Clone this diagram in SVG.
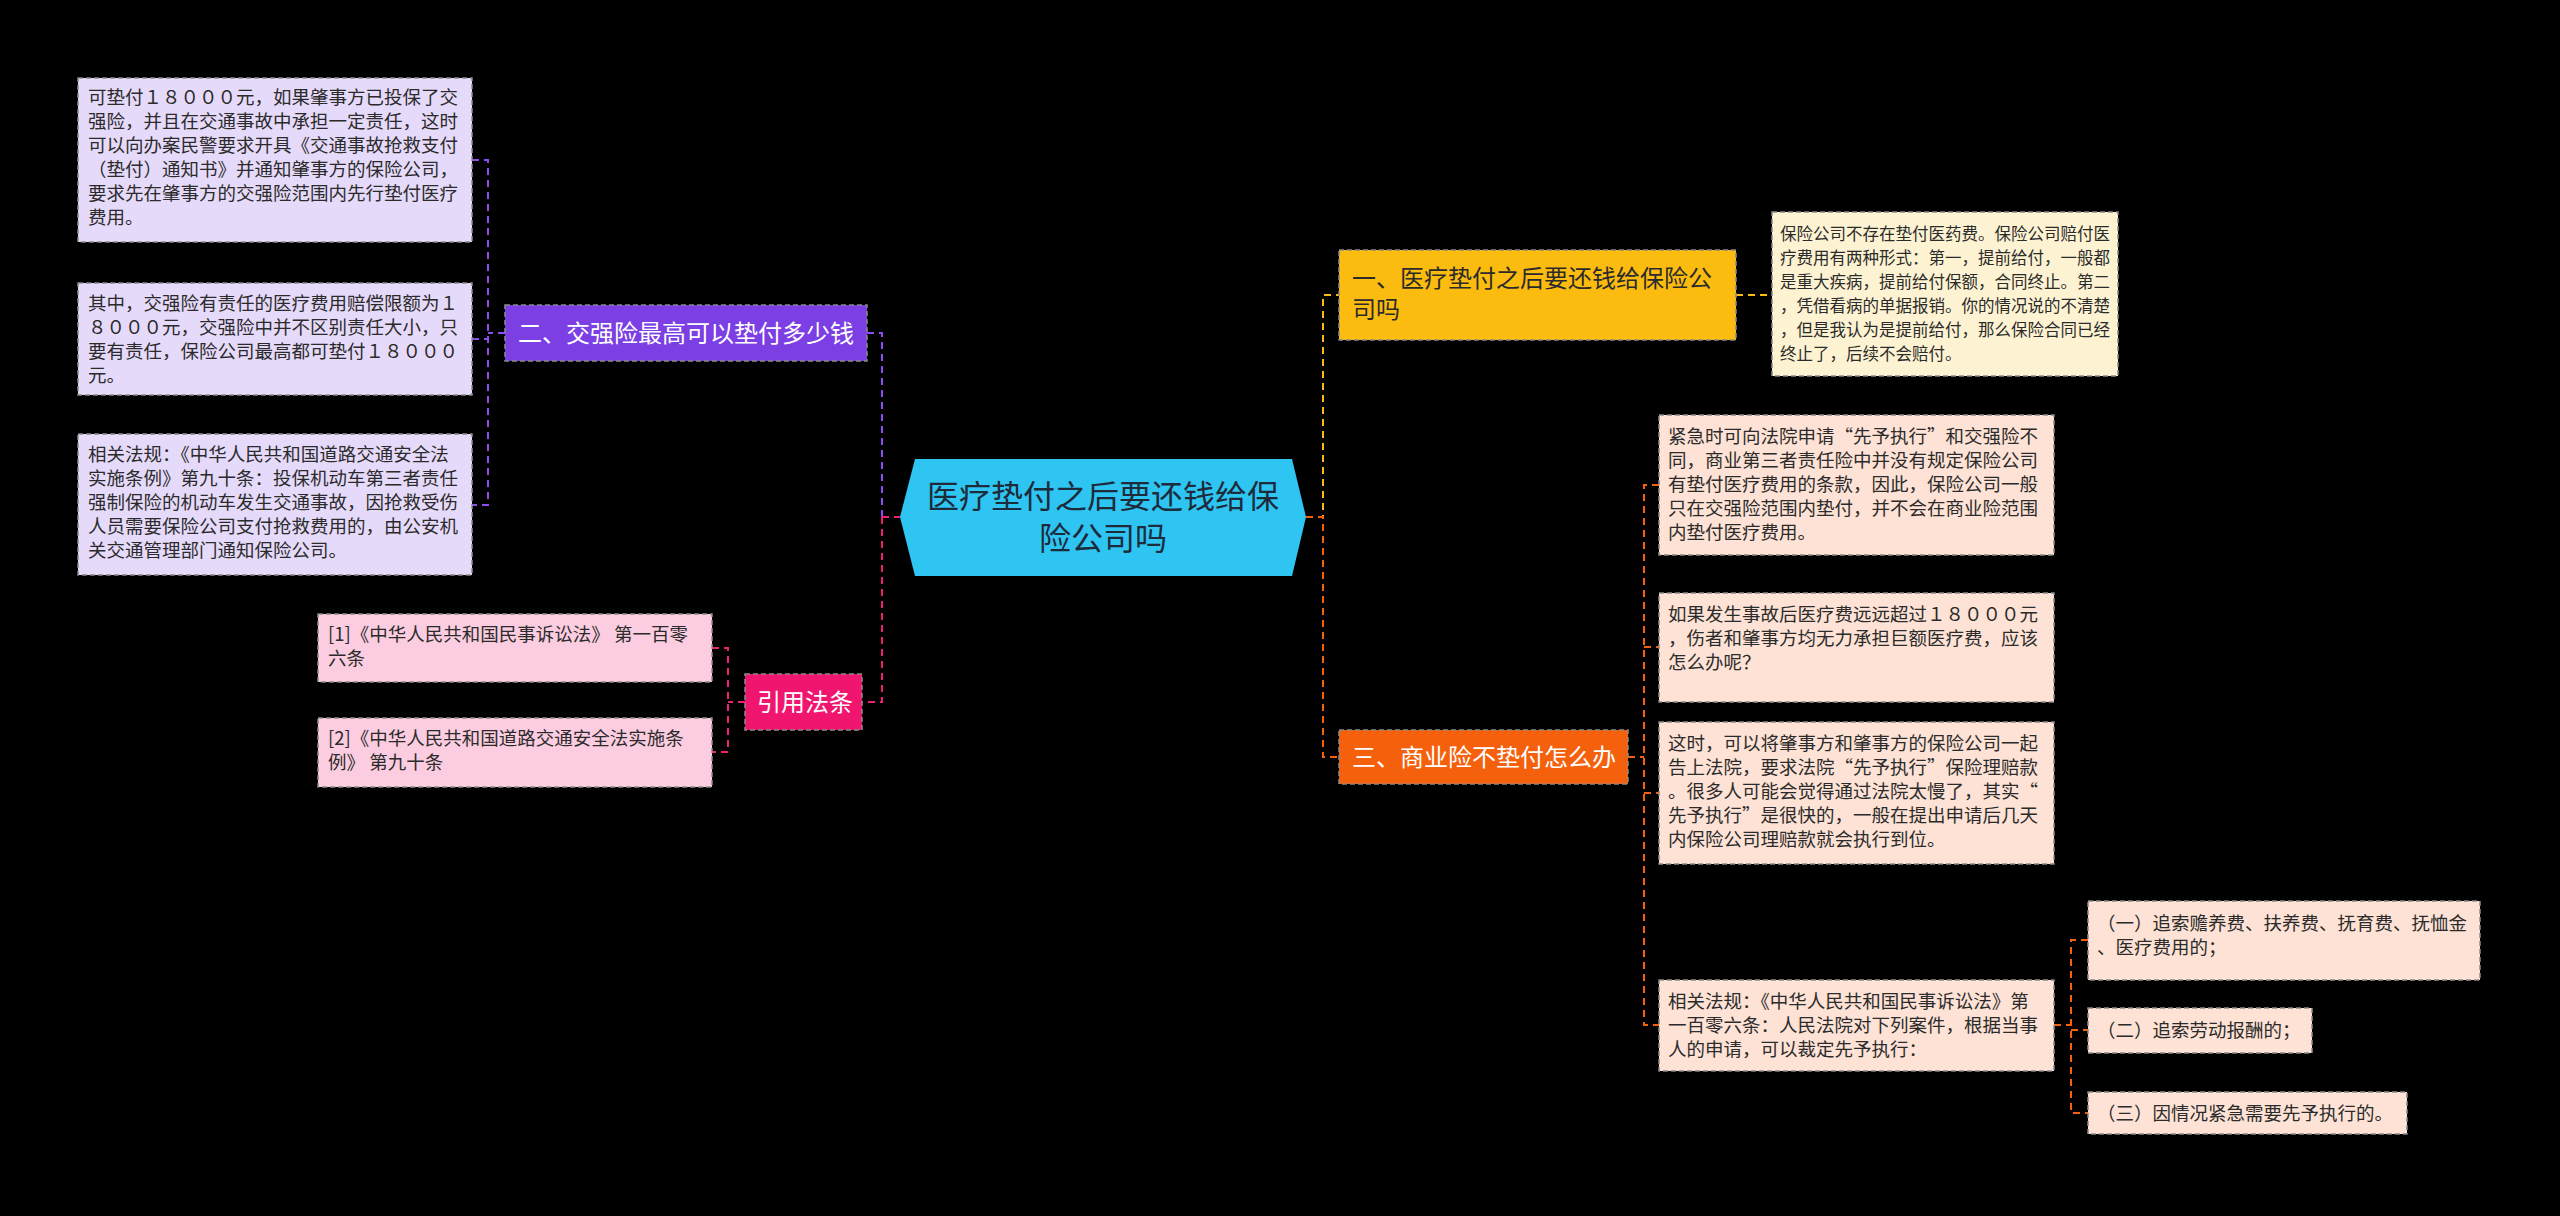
<svg xmlns="http://www.w3.org/2000/svg" width="2560" height="1216" viewBox="0 0 2560 1216">
<style>
text{font-family:"Noto Sans CJK SC","Noto Sans",sans-serif;}
.d{font-size:18.5px;fill:#2b2b2b;}
.n{font-size:24px;}
.b{stroke:#8a8a8a;stroke-width:1.5;stroke-dasharray:5,3;}
.c{fill:none;stroke-width:2;stroke-dasharray:7,5;}
</style>
<rect width="2560" height="1216" fill="#000"/>
<g id="connectors">
<path class="c" stroke="#8a4ef0" d="M867,333H882V517"/>
<path class="c" stroke="#ee1f74" d="M882,517V702H862M882,517H900"/>
<path class="c" stroke="#8a4ef0" d="M505,333H488M472,160H488V505H472M472,339H488"/>
<path class="c" stroke="#ee1f74" d="M745,702H728M712,648H728V752H712"/>
<path class="c" stroke="#fbbb0f" d="M1306,517H1323V295H1339"/>
<path class="c" stroke="#f5600c" d="M1306,517H1323V757H1339"/>
<path class="c" stroke="#fbbb0f" d="M1736,295H1772"/>
<path class="c" stroke="#f5600c" d="M1628,757H1644M1659,485H1644V1025H1659M1644,647H1659M1644,793H1659"/>
<path class="c" stroke="#f5600c" d="M2054,1025H2071M2088,940H2071V1113H2088M2071,1030H2088"/>
</g>
<g id="center">
<path d="M915,459H1292L1306,517L1292,576H915L900,517Z" fill="#2ec5f3"/>
<text x="1103" y="508" font-size="32" fill="#1d2b3a" text-anchor="middle">医疗垫付之后要还钱给保</text>
<text x="1103" y="550" font-size="32" fill="#1d2b3a" text-anchor="middle">险公司吗</text>
</g>
<g id="n2">
<rect class="b" x="505" y="305" width="362" height="56" fill="#7b3fe4"/>
<text class="n" x="518" y="342" fill="#fff">二、交强险最高可以垫付多少钱</text>
</g>
<g id="n2a">
<rect class="b" x="78" y="78" width="394" height="164" fill="#e6dafa"/>
<text class="d" x="88"><tspan x="88" y="104">可垫付１８０００元，如果肇事方已投保了交</tspan><tspan x="88" y="128">强险，并且在交通事故中承担一定责任，这时</tspan><tspan x="88" y="152">可以向办案民警要求开具《交通事故抢救支付</tspan><tspan x="88" y="176">（垫付）通知书》并通知肇事方的保险公司，</tspan><tspan x="88" y="200">要求先在肇事方的交强险范围内先行垫付医疗</tspan><tspan x="88" y="224">费用。</tspan></text>
</g>
<g id="n2b">
<rect class="b" x="78" y="283" width="394" height="112" fill="#e6dafa"/>
<text class="d"><tspan x="88" y="310">其中，交强险有责任的医疗费用赔偿限额为１</tspan><tspan x="88" y="334">８０００元，交强险中并不区别责任大小，只</tspan><tspan x="88" y="358">要有责任，保险公司最高都可垫付１８０００</tspan><tspan x="88" y="382">元。</tspan></text>
</g>
<g id="n2c">
<rect class="b" x="78" y="434" width="394" height="141" fill="#e6dafa"/>
<text class="d"><tspan x="88" y="461">相关法规：《中华人民共和国道路交通安全法</tspan><tspan x="88" y="485">实施条例》第九十条：投保机动车第三者责任</tspan><tspan x="88" y="509">强制保险的机动车发生交通事故，因抢救受伤</tspan><tspan x="88" y="533">人员需要保险公司支付抢救费用的，由公安机</tspan><tspan x="88" y="557">关交通管理部门通知保险公司。</tspan></text>
</g>
<g id="ref">
<rect class="b" x="745" y="674" width="117" height="56" fill="#f0156e"/>
<text class="n" x="757" y="711" fill="#fff">引用法条</text>
</g>
<g id="ref1">
<rect class="b" x="318" y="614" width="394" height="68" fill="#fccde0"/>
<text class="d"><tspan x="328" y="641">[1]《中华人民共和国民事诉讼法》 第一百零</tspan><tspan x="328" y="665">六条</tspan></text>
</g>
<g id="ref2">
<rect class="b" x="318" y="718" width="394" height="69" fill="#fccde0"/>
<text class="d"><tspan x="328" y="745">[2]《中华人民共和国道路交通安全法实施条</tspan><tspan x="328" y="769">例》 第九十条</tspan></text>
</g>
<g id="n1">
<rect class="b" x="1339" y="250" width="397" height="90" fill="#fbbb0f"/>
<text class="n" fill="#2b2b2b"><tspan x="1352" y="287">一、医疗垫付之后要还钱给保险公</tspan><tspan x="1352" y="318">司吗</tspan></text>
</g>
<g id="n1a">
<rect class="b" x="1772" y="212" width="346" height="164" fill="#fdf3d2"/>
<text class="d" font-size="16.5" style="font-size:16.5px"><tspan x="1780" y="240">保险公司不存在垫付医药费。保险公司赔付医</tspan><tspan x="1780" y="264">疗费用有两种形式：第一，提前给付，一般都</tspan><tspan x="1780" y="288">是重大疾病，提前给付保额，合同终止。第二</tspan><tspan x="1780" y="312">，凭借看病的单据报销。你的情况说的不清楚</tspan><tspan x="1780" y="336">，但是我认为是提前给付，那么保险合同已经</tspan><tspan x="1780" y="360">终止了，后续不会赔付。</tspan></text>
</g>
<g id="n3">
<rect class="b" x="1339" y="730" width="289" height="54" fill="#f5600c"/>
<text class="n" x="1352" y="766" fill="#fff">三、商业险不垫付怎么办</text>
</g>
<g id="n3a">
<rect class="b" x="1659" y="415" width="395" height="140" fill="#fde2d5"/>
<text class="d"><tspan x="1668" y="443">紧急时可向法院申请“先予执行”和交强险不</tspan><tspan x="1668" y="467">同，商业第三者责任险中并没有规定保险公司</tspan><tspan x="1668" y="491">有垫付医疗费用的条款，因此，保险公司一般</tspan><tspan x="1668" y="515">只在交强险范围内垫付，并不会在商业险范围</tspan><tspan x="1668" y="539">内垫付医疗费用。</tspan></text>
</g>
<g id="n3b">
<rect class="b" x="1659" y="593" width="395" height="109" fill="#fde2d5"/>
<text class="d"><tspan x="1668" y="621">如果发生事故后医疗费远远超过１８０００元</tspan><tspan x="1668" y="645">，伤者和肇事方均无力承担巨额医疗费，应该</tspan><tspan x="1668" y="669">怎么办呢？</tspan></text>
</g>
<g id="n3c">
<rect class="b" x="1659" y="722" width="395" height="142" fill="#fde2d5"/>
<text class="d"><tspan x="1668" y="750">这时，可以将肇事方和肇事方的保险公司一起</tspan><tspan x="1668" y="774">告上法院，要求法院“先予执行”保险理赔款</tspan><tspan x="1668" y="798">。很多人可能会觉得通过法院太慢了，其实“</tspan><tspan x="1668" y="822">先予执行”是很快的，一般在提出申请后几天</tspan><tspan x="1668" y="846">内保险公司理赔款就会执行到位。</tspan></text>
</g>
<g id="n3d">
<rect class="b" x="1659" y="980" width="395" height="91" fill="#fde2d5"/>
<text class="d"><tspan x="1668" y="1008">相关法规：《中华人民共和国民事诉讼法》第</tspan><tspan x="1668" y="1032">一百零六条：人民法院对下列案件，根据当事</tspan><tspan x="1668" y="1056">人的申请，可以裁定先予执行：</tspan></text>
</g>
<g id="s1">
<rect class="b" x="2088" y="901" width="392" height="79" fill="#fde2d5"/>
<text class="d"><tspan x="2097" y="930">（一）追索赡养费、扶养费、抚育费、抚恤金</tspan><tspan x="2097" y="954">、医疗费用的；</tspan></text>
</g>
<g id="s2">
<rect class="b" x="2088" y="1008" width="224" height="45" fill="#fde2d5"/>
<text class="d" x="2097" y="1037">（二）追索劳动报酬的；</text>
</g>
<g id="s3">
<rect class="b" x="2088" y="1092" width="319" height="42" fill="#fde2d5"/>
<text class="d" x="2097" y="1120">（三）因情况紧急需要先予执行的。</text>
</g>
</svg>
